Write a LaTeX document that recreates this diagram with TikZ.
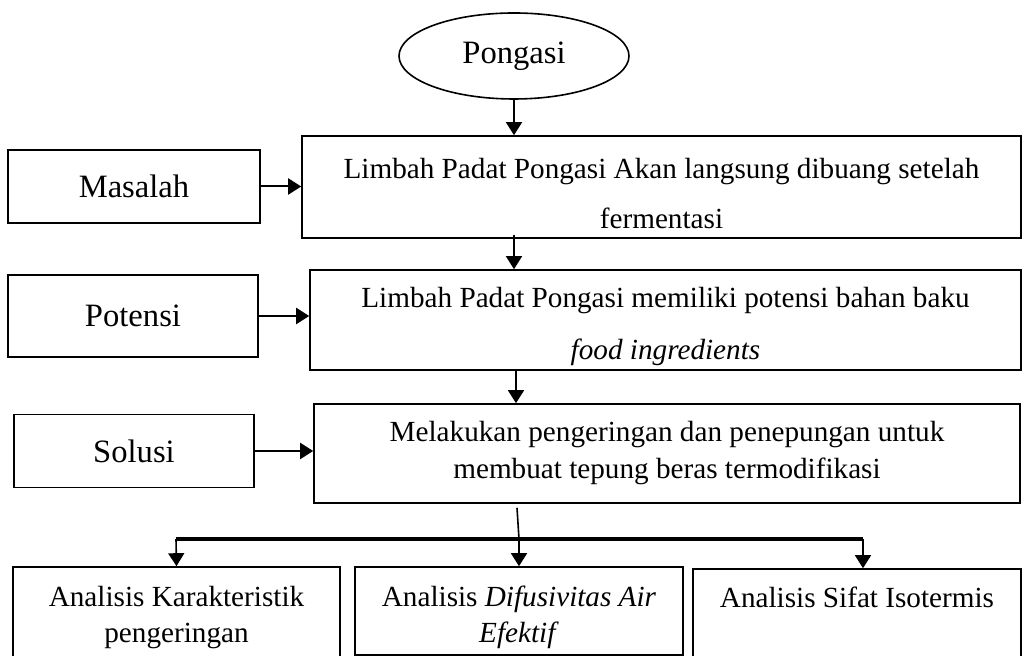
\documentclass[tikz,border=0pt]{standalone}
\usepackage{fontspec}
\setmainfont{Liberation Serif}
\usetikzlibrary{shapes.geometric,arrows.meta,calc}
\tikzset{
  box/.style={draw,line width=0.8pt,rectangle,inner sep=0pt,align=center,font=\fontsize{14.6}{25}\selectfont},
  side/.style={box,font=\fontsize{16.3}{20}\selectfont},
  arr/.style={line width=0.8pt,-{Triangle[length=6.5pt,width=8pt]}},
  sidearr/.style={line width=1pt,-{Triangle[length=6.5pt,width=8pt]}},
  barline/.style={line width=1.6pt},
}
\begin{document}
\begin{tikzpicture}[x=0.5pt,y=-0.5pt]
\clip (0,0) rectangle (1023,656);
\node[draw,ellipse,line width=0.8pt,minimum width=115pt,minimum height=43pt,inner sep=0pt,font=\fontsize{16.3}{20}\selectfont] (pongasi) at (514,56) {Pongasi};
\node[box,minimum width=359.5pt,minimum height=51pt] (box1) at (661.5,187) {\rule{0pt}{17pt}Limbah Padat Pongasi Akan langsung dibuang setelah\\fermentasi};
\node[side,minimum width=126pt,minimum height=36.5pt] (masalah) at (134,186.5) {Masalah};
\node[box,minimum width=355.5pt,minimum height=50pt,font=\fontsize{14.6}{26}\selectfont] (box2) at (665.5,320) {\rule{0pt}{17pt}Limbah Padat Pongasi memiliki potensi bahan baku\\\textit{food ingredients}};
\node[side,minimum width=125pt,minimum height=41pt] (potensi) at (133,316) {Potensi};
\node[box,minimum width=353pt,minimum height=49.5pt,font=\fontsize{14.6}{18.5}\selectfont] (box3) at (667,453.5) {Melakukan pengeringan dan penepungan untuk\\membuat tepung beras termodifikasi};
\node[side,minimum width=120pt,minimum height=36.5pt] (solusi) at (134,451) {Solusi};
\node[box,minimum width=163.5pt,minimum height=47pt,font=\fontsize{14.6}{18}\selectfont] (boxA) at (176.5,614) {\rule{0pt}{14pt}Analisis Karakteristik\\pengeringan};
\node[box,minimum width=164pt,minimum height=44pt,font=\fontsize{14.6}{18}\selectfont] (boxB) at (519,611) {\rule{0pt}{17pt}Analisis \textit{Difusivitas Air}\\\textit{Efektif}};
\node[box,minimum width=164pt,minimum height=46pt,font=\fontsize{14.6}{18}\selectfont] (boxC) at (857,615) {Analisis Sifat Isotermis\\\mbox{}};
\coordinate (bl) at (176,539);
\coordinate (bm) at (519,539);
\coordinate (br) at (863,539);
\draw[arr] (pongasi.south) -- (box1.north -| pongasi.south);
\draw[sidearr] (masalah.east) -- (masalah.east -| box1.west);
\draw[arr] ([yshift=2pt]pongasi.south |- box1.south) -- (pongasi.south |- box2.north);
\draw[sidearr] (potensi.east) -- (potensi.east -| box2.west);
\draw[arr] ([xshift=1pt]pongasi.south |- box2.south) -- ([xshift=1pt]pongasi.south |- box3.north);
\draw[sidearr] (solusi.east) -- (solusi.east -| box3.west);
\draw[line width=0.8pt] ([xshift=-75pt,yshift=-2pt]box3.south) -- (bm);
\draw[barline] (bl) -- (br);
\draw[arr] (bl) -- (boxA.north);
\draw[arr] (bm) -- (boxB.north);
\draw[arr] (br) -- (br |- boxC.north);
\end{tikzpicture}
\end{document}
